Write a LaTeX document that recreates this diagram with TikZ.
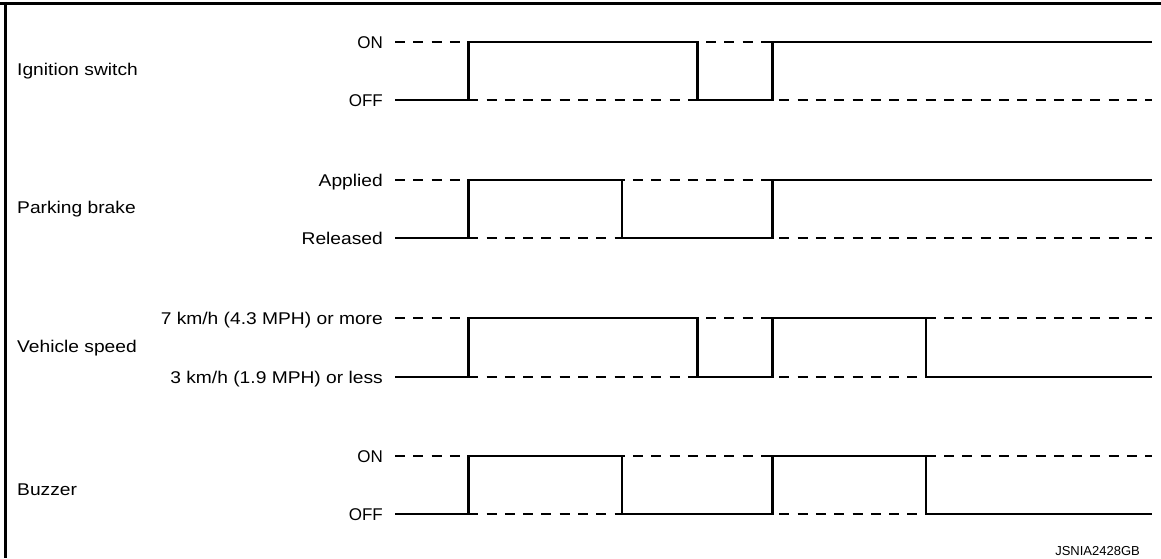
\documentclass[tikz,border=0pt]{standalone}
\usepackage{fontspec}
\setmainfont{Liberation Sans}
\newfontfamily\widesans[FakeStretch=1.13]{Liberation Sans}
\begin{document}
\begin{tikzpicture}[x=1pt,y=-1pt,
  wave/.style={line width=2.8pt, line join=miter, line cap=butt},
  ghost/.style={line width=2.8pt, dash pattern=on 10pt off 8.3pt},
  frame/.style={line width=3.2pt},
  lvl/.style={anchor=base east, inner sep=0pt, font=\fontsize{17}{20}\selectfont},
  wlvl/.style={anchor=base east, inner sep=0pt, font=\widesans\fontsize{17}{20}\selectfont},
  rowlbl/.style={anchor=base west, inner sep=0pt, font=\widesans\fontsize{17}{20}\selectfont},
  code/.style={anchor=base east, inner sep=0pt, font=\fontsize{13}{15}\selectfont}]
\useasboundingbox (0,0) rectangle (1161,558);
% frame (top and left)
\draw[frame] (0,3.4) -- (1161,3.4);
\draw[frame] (5.6,1.8) -- (5.6,558);

% ---------- Ignition switch ----------
\node[rowlbl] (ign) at (17,75) {Ignition switch};
\node[lvl] (ignOn) at (383,48) {ON};
\node[lvl] (ignOff) at (383,106) {OFF};
\coordinate (ignOnA) at (395,42);  \coordinate (ignOnB) at (1152,42);
\coordinate (ignOffA) at (395,100); \coordinate (ignOffB) at (1152,100);
\draw[ghost] (ignOnA) -- (ignOnB);
\draw[ghost] (ignOffA) -- (ignOffB);
\draw[wave] (ignOffA) -- (468.5,100) -- (468.5,42) -- (697.5,42) -- (697.5,100)
  -- (772.5,100) -- (772.5,42) -- (ignOnB);

% ---------- Parking brake ----------
\node[rowlbl] (pkb) at (17,213) {Parking brake};
\node[wlvl] (pkbOn) at (383,186) {Applied};
\node[wlvl] (pkbOff) at (383,244) {Released};
\coordinate (pkbOnA) at (395,180);  \coordinate (pkbOnB) at (1152,180);
\coordinate (pkbOffA) at (395,238); \coordinate (pkbOffB) at (1152,238);
\draw[ghost] (pkbOnA) -- (pkbOnB);
\draw[ghost] (pkbOffA) -- (pkbOffB);
\draw[wave] (pkbOffA) -- (468.5,238) -- (468.5,180) -- (622,180) -- (622,238)
  -- (772.5,238) -- (772.5,180) -- (pkbOnB);

% ---------- Vehicle speed ----------
\node[rowlbl] (vsp) at (17,352) {Vehicle speed};
\node[wlvl] (vspOn) at (383,324) {7 km/h (4.3 MPH) or more};
\node[wlvl] (vspOff) at (383,383) {3 km/h (1.9 MPH) or less};
\coordinate (vspOnA) at (395,318);  \coordinate (vspOnB) at (1152,318);
\coordinate (vspOffA) at (395,377); \coordinate (vspOffB) at (1152,377);
\draw[ghost] (vspOnA) -- (vspOnB);
\draw[ghost] (vspOffA) -- (vspOffB);
\draw[wave] (vspOffA) -- (468.5,377) -- (468.5,318) -- (697.5,318) -- (697.5,377)
  -- (772.5,377) -- (772.5,318) -- (926,318) -- (926,377) -- (vspOffB);

% ---------- Buzzer ----------
\node[rowlbl] (buz) at (17,495) {Buzzer};
\node[lvl] (buzOn) at (383,462) {ON};
\node[lvl] (buzOff) at (383,520) {OFF};
\coordinate (buzOnA) at (395,456);  \coordinate (buzOnB) at (1152,456);
\coordinate (buzOffA) at (395,514); \coordinate (buzOffB) at (1152,514);
\draw[ghost] (buzOnA) -- (buzOnB);
\draw[ghost] (buzOffA) -- (buzOffB);
\draw[wave] (buzOffA) -- (468.5,514) -- (468.5,456) -- (622,456) -- (622,514)
  -- (772.5,514) -- (772.5,456) -- (926,456) -- (926,514) -- (buzOffB);

\node[code] (id) at (1140,555) {JSNIA2428GB};
\end{tikzpicture}
\end{document}
